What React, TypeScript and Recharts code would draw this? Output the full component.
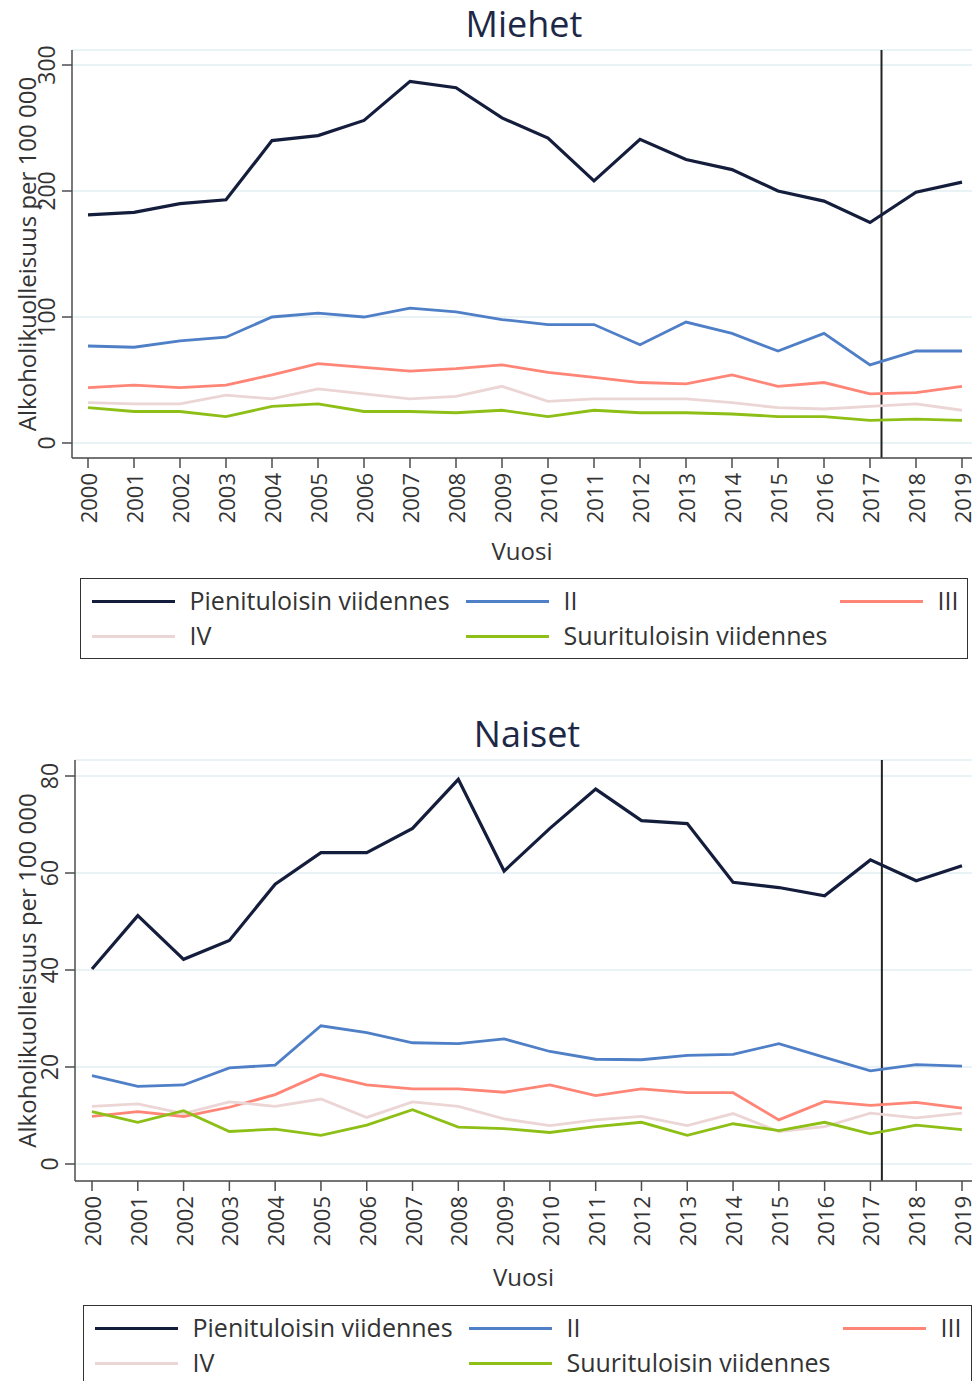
import React from 'react';
import { LineChart, Line, XAxis, YAxis, CartesianGrid, ReferenceLine } from 'recharts';

const years = [2000, 2001, 2002, 2003, 2004, 2005, 2006, 2007, 2008, 2009, 2010, 2011, 2012, 2013, 2014, 2015, 2016, 2017, 2018, 2019];

const seriesNames = ['Pienituloisin viidennes', 'II', 'III', 'IV', 'Suurituloisin viidennes'];
const seriesKeys = ['q1', 'q2', 'q3', 'q4', 'q5'];
const seriesColors = ['#141d3c', '#4f7fc6', '#ff8577', '#ecd5d5', '#8dbf17'];

const menQ1 = [181, 183, 190, 193, 240, 244, 256, 287, 282, 258, 242, 208, 241, 225, 217, 200, 192, 175, 199, 207];
const menQ2 = [77, 76, 81, 84, 100, 103, 100, 107, 104, 98, 94, 94, 78, 96, 87, 73, 87, 62, 73, 73];
const menQ3 = [44, 46, 44, 46, 54, 63, 60, 57, 59, 62, 56, 52, 48, 47, 54, 45, 48, 39, 40, 45];
const menQ4 = [32, 31, 31, 38, 35, 43, 39, 35, 37, 45, 33, 35, 35, 35, 32, 28, 27, 29, 31, 26];
const menQ5 = [28, 25, 25, 21, 29, 31, 25, 25, 24, 26, 21, 26, 24, 24, 23, 21, 21, 18, 19, 18];

const womenQ1 = [40.2, 51.2, 42.2, 46.1, 57.7, 64.2, 64.2, 69.2, 79.3, 60.4, 69.2, 77.3, 70.8, 70.2, 58.1, 57.0, 55.3, 62.7, 58.4, 61.5];
const womenQ2 = [18.2, 16.0, 16.3, 19.8, 20.4, 28.5, 27.1, 25.0, 24.8, 25.8, 23.2, 21.6, 21.5, 22.4, 22.6, 24.8, 22.0, 19.2, 20.5, 20.2];
const womenQ3 = [9.8, 10.8, 9.8, 11.7, 14.3, 18.5, 16.3, 15.5, 15.5, 14.8, 16.3, 14.1, 15.5, 14.7, 14.7, 9.1, 12.9, 12.1, 12.7, 11.5];
const womenQ4 = [11.9, 12.4, 10.4, 12.8, 11.9, 13.4, 9.6, 12.8, 11.9, 9.3, 7.9, 9.1, 9.8, 7.9, 10.4, 6.7, 7.7, 10.5, 9.5, 10.5];
const womenQ5 = [10.8, 8.6, 11.0, 6.7, 7.2, 5.9, 8.0, 11.2, 7.6, 7.3, 6.5, 7.7, 8.6, 5.9, 8.3, 6.9, 8.6, 6.2, 8.0, 7.1];

const menTicks = [0, 100, 200, 300];
const womenTicks = [0, 20, 40, 60, 80];
const cutYear = 2017.25;

const yLabel = 'Alkoholikuolleisuus per 100 000';
const xLabel = 'Vuosi';

const FONT = "'Open Sans', 'DejaVu Sans', sans-serif";
const AXIS = '#4d4d4d';
const TEXT = '#333333';

function buildRows(a: number[], b: number[], c: number[], d: number[], e: number[]) {
  return years.map((year, i) => ({ year, q1: a[i], q2: b[i], q3: c[i], q4: d[i], q5: e[i] }));
}

const menData = buildRows(menQ1, menQ2, menQ3, menQ4, menQ5);
const womenData = buildRows(womenQ1, womenQ2, womenQ3, womenQ4, womenQ5);

const XTick = (props: any) => {
  const { x, y, payload } = props;
  const yy = y + 3;
  return (
    <text x={x} y={yy} transform={`rotate(-90, ${x}, ${yy})`} textAnchor="end" dominantBaseline="central"
      fontSize={22} fill={TEXT} fontFamily={FONT}>
      {payload.value}
    </text>
  );
};

const YTick = (props: any) => {
  const { x, y, payload } = props;
  const xx = x - 5;
  return (
    <text x={xx} y={y} transform={`rotate(-90, ${xx}, ${y})`} textAnchor="middle"
      fontSize={23} fill={TEXT} fontFamily={FONT}>
      {payload.value}
    </text>
  );
};

function makeYLabel(fallbackCy: number) {
  return (p: any) => {
    const vb = p && p.viewBox;
    const cy = vb && typeof vb.y === 'number' ? vb.y + vb.height / 2 : fallbackCy;
    const cx = 26;
    return (
      <text x={cx} y={cy} transform={`rotate(-90, ${cx}, ${cy})`} textAnchor="middle" dominantBaseline="central"
        fontSize={24} fill={TEXT} fontFamily={FONT}>
        {yLabel}
      </text>
    );
  };
}

type PanelProps = {
  data: any[];
  ticks: number[];
  top: number;
  height: number;
  marginTop: number;
  yWidth: number;
  xPad: { left: number; right: number };
  yPad: { top: number; bottom: number };
  labelOffset: number;
  fallbackCy: number;
};

function Panel(props: PanelProps) {
  const { data, ticks, top, height, marginTop, yWidth, xPad, yPad, labelOffset, fallbackCy } = props;
  return (
    <div style={{ position: 'absolute', left: 0, top, width: 972, height }}>
      <LineChart width={972} height={height} data={data} margin={{ top: marginTop, right: 0, left: 0, bottom: 0 }}>
        <CartesianGrid vertical={false} stroke="#e2eef0" strokeWidth={1.5} />
        <XAxis
          dataKey="year"
          type="number"
          domain={[2000, 2019]}
          ticks={years}
          interval={0}
          padding={xPad}
          height={110}
          axisLine={{ stroke: AXIS, strokeWidth: 1.5 }}
          tickLine={{ stroke: AXIS, strokeWidth: 1.5 }}
          tickSize={10}
          tick={<XTick />}
          label={{ value: xLabel, position: 'insideBottom', offset: labelOffset, fontSize: 24, fill: TEXT, fontFamily: FONT }}
        />
        <YAxis
          type="number"
          domain={[ticks[0], ticks[ticks.length - 1]]}
          ticks={ticks}
          interval={0}
          width={yWidth}
          padding={yPad}
          axisLine={{ stroke: AXIS, strokeWidth: 1.5 }}
          tickLine={{ stroke: AXIS, strokeWidth: 1.5 }}
          tickSize={10}
          tick={<YTick />}
          label={{ content: makeYLabel(fallbackCy) } as any}
        />
        <ReferenceLine x={cutYear} stroke="#222222" strokeWidth={2} />
        {seriesKeys.map((k, i) => (
          <Line
            key={k}
            type="linear"
            dataKey={k}
            name={seriesNames[i]}
            stroke={seriesColors[i]}
            strokeWidth={i === 0 ? 3.2 : 2.8}
            dot={false}
            activeDot={false}
            isAnimationActive={false}
          />
        ))}
      </LineChart>
    </div>
  );
}

function LegendBox({ left, top, width, height }: { left: number; top: number; width: number; height: number }) {
  return (
    <div style={{ position: 'absolute', left, top, width, height, border: '1.5px solid #333', boxSizing: 'border-box', background: '#fff' }}>
      {seriesNames.map((name, i) => {
        const col = i % 3;
        const row = Math.floor(i / 3);
        const rowY = 22.5 + row * 35;
        return (
          <React.Fragment key={name}>
            <div style={{ position: 'absolute', left: 10.5 + col * 374, top: rowY - 1.5, width: 83, height: 3, background: seriesColors[i] }} />
            <div style={{ position: 'absolute', left: 108.5 + col * 374, top: rowY - 13.2, fontFamily: FONT, fontSize: 25, lineHeight: '25px', color: TEXT, whiteSpace: 'nowrap' }}>
              {name}
            </div>
          </React.Fragment>
        );
      })}
    </div>
  );
}

function Title({ text, cx, top }: { text: string; cx: number; top: number }) {
  return (
    <div style={{ position: 'absolute', left: cx, top, transform: 'translateX(-50%)', fontFamily: FONT, fontSize: 36, lineHeight: '36px', color: '#1d2846', whiteSpace: 'nowrap' }}>
      {text}
    </div>
  );
}

export default function App() {
  return (
    <div style={{ position: 'absolute', left: 0, top: 0, width: 972, height: 1381, overflow: 'hidden', background: '#fff' }}>
      <Title text="Miehet" cx={524} top={6} />
      <Panel
        data={menData}
        ticks={menTicks}
        top={0}
        height={568}
        marginTop={50}
        yWidth={72}
        xPad={{ left: 16, right: 10 }}
        yPad={{ top: 15, bottom: 15 }}
        labelOffset={8.5}
        fallbackCy={254}
      />
      <LegendBox left={80} top={578} width={888} height={81} />
      <Title text="Naiset" cx={527} top={716} />
      <Panel
        data={womenData}
        ticks={womenTicks}
        top={700}
        height={591}
        marginTop={60}
        yWidth={75}
        xPad={{ left: 17, right: 10 }}
        yPad={{ top: 16, bottom: 17 }}
        labelOffset={5.5}
        fallbackCy={270}
      />
      <LegendBox left={83} top={1305} width={889} height={100} />
    </div>
  );
}
